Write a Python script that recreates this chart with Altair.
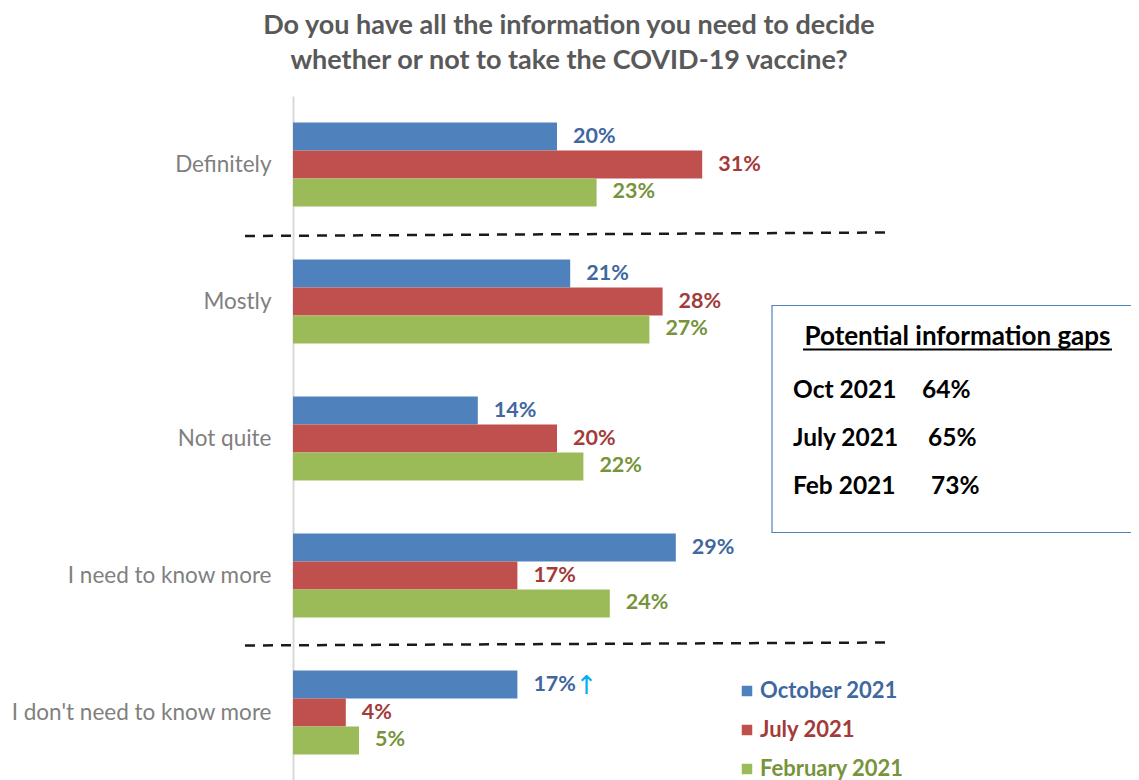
import altair as alt
import pandas as pd

# ---------------- data ----------------
CATEGORIES = ["Definitely", "Mostly", "Not quite", "I need to know more", "I don't need to know more"]
SERIES = ["October 2021", "July 2021", "February 2021"]
OCT_2021 = [20, 21, 14, 29, 17]
JUL_2021 = [31, 28, 20, 17, 4]
FEB_2021 = [23, 27, 22, 24, 5]

TITLE_LINES = ["Do you have all the information you need to decide",
               "whether or not to take the COVID-19 vaccine?"]

GAP_HEADER = "Potential information gaps"
GAP_PERIODS = ["Oct 2021", "July 2021", "Feb 2021"]
GAP_VALUES = [64, 65, 73]

ARROW_CATEGORY = "I don't need to know more"
ARROW_SERIES = "October 2021"

# ---------------- styles ----------------
BAR_COLORS = ["#4F81BD", "#C0504D", "#9BBB59"]
TEXT_COLORS = ["#3F67A0", "#A23B39", "#77933C"]
FONT = "Lato"

rows = []
for s, vals in zip(SERIES, [OCT_2021, JUL_2021, FEB_2021]):
    for c, v in zip(CATEGORIES, vals):
        rows.append({"category": c, "series": s, "value": v, "label": f"{v}%"})
df = pd.DataFrame(rows)

PX_PER_PCT = 13.2
W = 838
H = 685

xscale = alt.Scale(domain=[0, W / PX_PER_PCT], nice=False, zero=True)
yscale = alt.Scale(domain=CATEGORIES, paddingInner=0.387, paddingOuter=0.1935)

y_enc = alt.Y(
    "category:N", sort=CATEGORIES, scale=yscale,
    axis=alt.Axis(title=None, ticks=False, grid=False, domainColor="#D9D9D9", domainWidth=2,
                  labelFont=FONT, labelFontSize=22.5, labelColor="#7F7F7F",
                  labelPadding=22, labelLimit=400),
)
yoff = alt.YOffset("series:N", sort=SERIES, scale=alt.Scale(domain=SERIES))
x_enc = alt.X("value:Q", scale=xscale, axis=None)

label_expr = " : ".join(
    f"datum.label === '{s}' ? '{c}'" for s, c in zip(SERIES[:-1], TEXT_COLORS[:-1])
) + f" : '{TEXT_COLORS[-1]}'"

bars = alt.Chart(df).mark_bar().encode(
    x=x_enc, y=y_enc, yOffset=yoff,
    color=alt.Color(
        "series:N", sort=SERIES, scale=alt.Scale(domain=SERIES, range=BAR_COLORS),
        legend=alt.Legend(orient="none", legendX=443, legendY=584, title=None,
                          symbolType="square", symbolSize=110, symbolStrokeWidth=0,
                          labelFont=FONT, labelFontSize=22, labelFontWeight="bold",
                          labelColor={"expr": label_expr}, labelOffset=2,
                          rowPadding=17, padding=0),
    ),
)

labels = alt.Chart(df).mark_text(
    align="left", baseline="middle", dx=16, font=FONT, fontSize=21.5, fontWeight="bold"
).encode(
    x=x_enc, y=y_enc, yOffset=yoff, text="label:N",
    color=alt.Color("series:N", sort=SERIES, scale=alt.Scale(domain=SERIES, range=TEXT_COLORS),
                    legend=None),
)

arrow = alt.Chart(df).transform_filter(
    (alt.datum.category == ARROW_CATEGORY) & (alt.datum.series == ARROW_SERIES)
).mark_text(
    text="\u2191", font="DejaVu Sans", fontSize=26, color="#00B0F0",
    align="center", baseline="middle", dx=69, dy=1
).encode(x=x_enc, y=y_enc, yOffset=yoff)

one = pd.DataFrame({"k": [0]})

sep1 = alt.Chart(one).mark_rule(color="#1A1A1A", strokeWidth=2.5, strokeDash=[10, 8]).encode(
    x=alt.value(-48), x2=alt.value(592), y=alt.value(140), y2=alt.value(136.5))
sep2 = alt.Chart(one).mark_rule(color="#1A1A1A", strokeWidth=2.5, strokeDash=[10, 8]).encode(
    x=alt.value(-48), x2=alt.value(592), y=alt.value(549.5), y2=alt.value(546.5))

box = alt.Chart(one).mark_rect(fill="white", stroke="#4F81BD", strokeWidth=1.2).encode(
    x=alt.value(479), x2=alt.value(900), y=alt.value(209.5), y2=alt.value(436.5))

header = alt.Chart(pd.DataFrame({"t": [GAP_HEADER]})).mark_text(
    font=FONT, fontSize=26, fontWeight="bold", color="black", align="center", baseline="middle"
).encode(x=alt.value(664.5), y=alt.value(240.5), text="t:N")
underline = alt.Chart(one).mark_rule(color="black", strokeWidth=2).encode(
    x=alt.value(510), x2=alt.value(819), y=alt.value(253.5))

VALUE_X = [629, 635, 638]
gap_layers = []
for i, (p, v) in enumerate(zip(GAP_PERIODS, GAP_VALUES)):
    yy = 294.5 + 48 * i
    gap_layers.append(alt.Chart(pd.DataFrame({"t": [p]})).mark_text(
        font=FONT, fontSize=24.5, fontWeight="bold", color="black", align="left", baseline="middle"
    ).encode(x=alt.value(500), y=alt.value(yy), text="t:N"))
    gap_layers.append(alt.Chart(pd.DataFrame({"t": [f"{v}%"]})).mark_text(
        font=FONT, fontSize=24.5, fontWeight="bold", color="black", align="left", baseline="middle"
    ).encode(x=alt.value(VALUE_X[i]), y=alt.value(yy), text="t:N"))

chart = alt.layer(
    box, header, underline, *gap_layers, bars, labels, arrow, sep1, sep2
).resolve_scale(color="independent").properties(
    width=W, height=H,
    padding={"left": 285, "top": 88, "right": 0, "bottom": 0},
    autosize=alt.AutoSizeParams(type="none"),
    title=alt.TitleParams(text=TITLE_LINES, font=FONT, fontSize=27, fontWeight="bold",
                          color="#595959", anchor="middle", frame="group", dx=-143,
                          offset=21, lineHeight=35),
).configure_view(stroke=None)

chart.save("out.html", embed_options={"renderer": "svg", "actions": False})
